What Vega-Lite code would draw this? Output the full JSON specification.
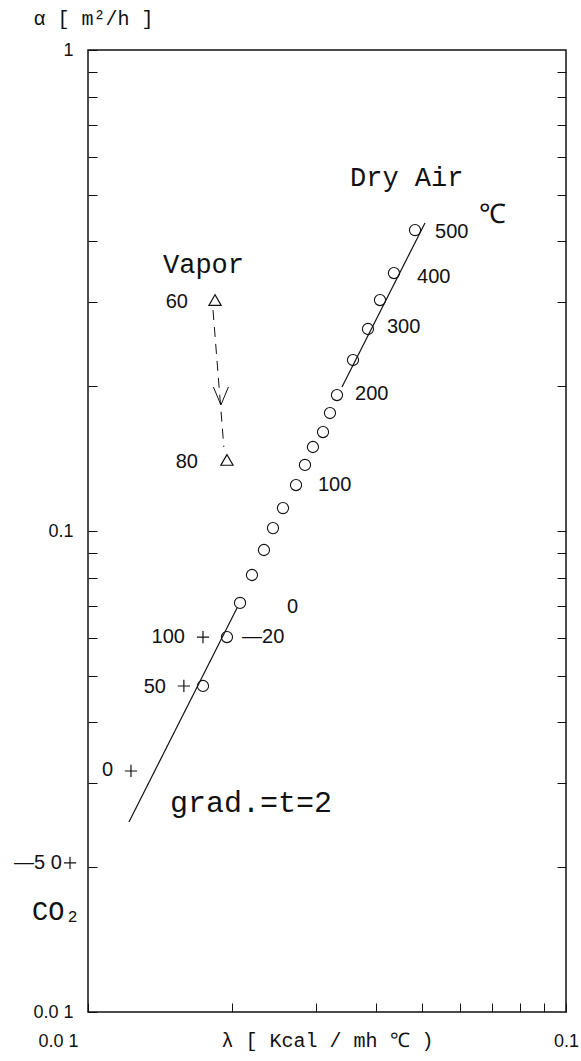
{
  "$schema": "https://vega.github.io/schema/vega-lite/v6.json",
  "width": 478,
  "height": 962,
  "autosize": "none",
  "padding": {"left": 88, "top": 50, "right": 15, "bottom": 49},
  "background": "white",
  "config": {"view": {"stroke": "#111", "strokeWidth": 1.5}, "font": "Liberation Sans"},
  "datasets": {
    "air": [
      {"lambda": 0.01740, "a": 0.04762},
      {"lambda": 0.01953, "a": 0.06019},
      {"lambda": 0.02080, "a": 0.07087},
      {"lambda": 0.02203, "a": 0.08101},
      {"lambda": 0.02334, "a": 0.09131},
      {"lambda": 0.02438, "a": 0.1014},
      {"lambda": 0.02558, "a": 0.1116},
      {"lambda": 0.02724, "a": 0.1246},
      {"lambda": 0.02844, "a": 0.1372},
      {"lambda": 0.02955, "a": 0.1495},
      {"lambda": 0.03102, "a": 0.1606},
      {"lambda": 0.03208, "a": 0.1759},
      {"lambda": 0.03318, "a": 0.1917},
      {"lambda": 0.03584, "a": 0.2267},
      {"lambda": 0.03852, "a": 0.2630},
      {"lambda": 0.04082, "a": 0.3021},
      {"lambda": 0.04366, "a": 0.3438},
      {"lambda": 0.04832, "a": 0.4223}
    ],
    "fit": [
      {"seg": "low", "lambda": 0.01218, "a": 0.02483},
      {"seg": "low", "lambda": 0.02050, "a": 0.06918},
      {"seg": "high", "lambda": 0.03399, "a": 0.1993},
      {"seg": "high", "lambda": 0.05070, "a": 0.4368}
    ],
    "vapor": [
      {"t": 60, "lambda": 0.01844, "a": 0.3021},
      {"t": 80, "lambda": 0.01953, "a": 0.1405}
    ],
    "vaporPath": [
      {"lambda": 0.01826, "a": 0.2880},
      {"lambda": 0.01924, "a": 0.1495}
    ],
    "arrow": [{"lambda": 0.01897, "a": 0.1828}],
    "co2": [
      {"t": 100, "lambda": 0.01740, "a": 0.06019},
      {"t": 50, "lambda": 0.01587, "a": 0.04762},
      {"t": 0, "lambda": 0.01230, "a": 0.03170},
      {"t": -50, "lambda": 0.00917, "a": 0.02041}
    ],
    "numAfter": [
      {"label": "500", "lambda": 0.05321, "a": 0.4183},
      {"label": "400", "lambda": 0.04879, "a": 0.3374},
      {"label": "300", "lambda": 0.04222, "a": 0.2655},
      {"label": "200", "lambda": 0.03620, "a": 0.1927},
      {"label": "100", "lambda": 0.03027, "a": 0.1246},
      {"label": "0", "lambda": 0.02608, "a": 0.0695},
      {"label": "—20", "lambda": 0.02100, "a": 0.06019}
    ],
    "numBefore": [
      {"label": "100", "lambda": 0.01595, "a": 0.06019},
      {"label": "50", "lambda": 0.01456, "a": 0.04739},
      {"label": "0", "lambda": 0.01128, "a": 0.03184},
      {"label": "—5 0", "lambda": 0.00882, "a": 0.02041},
      {"label": "60", "lambda": 0.01618, "a": 0.2993},
      {"label": "80", "lambda": 0.01698, "a": 0.1392}
    ],
    "words": [
      {"label": "Dry Air", "lambda": 0.03533, "a": 0.5418},
      {"label": "Vapor", "lambda": 0.01435, "a": 0.3573},
      {"label": "℃", "lambda": 0.06577, "a": 0.4539},
      {"label": "CO₂", "lambda": 0.00764, "a": 0.01614}
    ],
    "formula": [
      {"label": "grad.=t=2", "lambda": 0.01484, "a": 0.02719}
    ]
  },
  "resolve": {"axis": {"y": "independent"}},
  "layer": [
    {
      "data": {"name": "air"},
      "mark": {"type": "point", "shape": "circle", "filled": false, "size": 125, "stroke": "#111", "strokeWidth": 1.1, "opacity": 1},
      "encoding": {
        "x": {
          "field": "lambda", "type": "quantitative",
          "scale": {"type": "log", "domain": [0.01, 0.1], "nice": false},
          "axis": {
            "title": "λ [ Kcal / mh ℃ )",
            "orient": "bottom",
            "values": [0.01, 0.02, 0.03, 0.04, 0.05, 0.06, 0.07, 0.08, 0.09, 0.1],
            "domain": false, "grid": false,
            "tickSize": -9, "tickColor": "#111", "tickWidth": 1,
            "labelExpr": "datum.value < 0.015 ? '0.0 1' : (datum.value > 0.095 ? '0.1' : '')",
            "labelFlush": false, "labelOverlap": false,
            "labelAlign": {"condition": {"test": "datum.value < 0.015", "value": "right"}, "value": "center"},
            "labelOffset": {"condition": {"test": "datum.value < 0.015", "value": -10}, "value": 0},
            "labelFont": "Liberation Sans", "labelFontSize": 18, "labelColor": "#111",
            "labelPadding": 29,
            "titleFont": "Liberation Mono", "titleFontSize": 20, "titleFontWeight": "normal", "titleColor": "#111",
            "titleX": 239, "titleY": 28, "titleBaseline": "middle", "titleAlign": "center"
          }
        },
        "y": {
          "field": "a", "type": "quantitative",
          "scale": {"type": "log", "domain": [0.01, 1], "nice": false},
          "axis": {
            "title": "α [ m²/h ]",
            "values": [0.01, 0.02, 0.03, 0.04, 0.05, 0.06, 0.07, 0.08, 0.09, 0.1, 0.2, 0.3, 0.4, 0.5, 0.6, 0.7, 0.8, 0.9, 1],
            "domain": false, "grid": false,
            "tickSize": -9, "tickColor": "#111", "tickWidth": 1,
            "labelExpr": "datum.value > 0.95 ? '1' : (abs(datum.value - 0.1) < 0.000001 ? '0.1' : (datum.value < 0.0105 ? '0.0 1' : ''))",
            "labelFlush": false, "labelOverlap": false,
            "labelFont": "Liberation Sans", "labelFontSize": 18, "labelColor": "#111",
            "labelPadding": 24,
            "titleFont": "Liberation Mono", "titleFontSize": 20, "titleFontWeight": "normal", "titleColor": "#111",
            "titleAngle": 0, "titleX": 5, "titleY": -32, "titleAlign": "center", "titleBaseline": "middle"
          }
        }
      }
    },
    {
      "data": {"name": "fit"},
      "mark": {"type": "line", "stroke": "#111", "strokeWidth": 1.2},
      "encoding": {
        "x": {"field": "lambda", "type": "quantitative"},
        "y": {
          "field": "a", "type": "quantitative",
          "axis": {
            "orient": "right", "title": null, "labels": false, "domain": false, "grid": false,
            "values": [0.02, 0.03, 0.04, 0.05, 0.06, 0.07, 0.08, 0.09, 0.1, 0.2, 0.3, 0.4, 0.5, 0.6, 0.7, 0.8, 0.9],
            "tickSize": -9, "tickColor": "#111", "tickWidth": 1
          }
        },
        "detail": {"field": "seg"}
      }
    },
    {
      "data": {"name": "vaporPath"},
      "mark": {"type": "line", "stroke": "#111", "strokeWidth": 1, "strokeDash": [10, 7]},
      "encoding": {
        "x": {"field": "lambda", "type": "quantitative"},
        "y": {"field": "a", "type": "quantitative", "axis": null}
      }
    },
    {
      "data": {"name": "arrow"},
      "mark": {"type": "point", "shape": "M-0.75,-1.8L0,0L0.75,-1.8", "filled": false, "size": 400, "stroke": "#111", "strokeWidth": 1, "opacity": 1},
      "encoding": {
        "x": {"field": "lambda", "type": "quantitative"},
        "y": {"field": "a", "type": "quantitative", "axis": null}
      }
    },
    {
      "data": {"name": "vapor"},
      "mark": {"type": "point", "shape": "triangle-up", "filled": false, "size": 150, "stroke": "#111", "strokeWidth": 1.2, "opacity": 1},
      "encoding": {
        "x": {"field": "lambda", "type": "quantitative"},
        "y": {"field": "a", "type": "quantitative", "axis": null}
      }
    },
    {
      "data": {"name": "co2"},
      "mark": {"type": "point", "shape": "M-1,0L1,0M0,-1L0,1", "filled": false, "size": 150, "stroke": "#111", "strokeWidth": 1.2, "opacity": 1},
      "encoding": {
        "x": {"field": "lambda", "type": "quantitative"},
        "y": {"field": "a", "type": "quantitative", "axis": null}
      }
    },
    {
      "data": {"name": "numAfter"},
      "mark": {"type": "text", "align": "left", "baseline": "middle", "font": "Liberation Sans", "fontSize": 20, "color": "#111"},
      "encoding": {
        "x": {"field": "lambda", "type": "quantitative"},
        "y": {"field": "a", "type": "quantitative", "axis": null},
        "text": {"field": "label"}
      }
    },
    {
      "data": {"name": "numBefore"},
      "mark": {"type": "text", "align": "right", "baseline": "middle", "font": "Liberation Sans", "fontSize": 20, "color": "#111"},
      "encoding": {
        "x": {"field": "lambda", "type": "quantitative"},
        "y": {"field": "a", "type": "quantitative", "axis": null},
        "text": {"field": "label"}
      }
    },
    {
      "data": {"name": "words"},
      "mark": {"type": "text", "align": "left", "baseline": "middle", "font": "Liberation Mono", "fontSize": 27, "color": "#111"},
      "encoding": {
        "x": {"field": "lambda", "type": "quantitative"},
        "y": {"field": "a", "type": "quantitative", "axis": null},
        "text": {"field": "label"}
      }
    },
    {
      "data": {"name": "formula"},
      "mark": {"type": "text", "align": "left", "baseline": "middle", "font": "Liberation Mono", "fontSize": 30, "color": "#111"},
      "encoding": {
        "x": {"field": "lambda", "type": "quantitative"},
        "y": {"field": "a", "type": "quantitative", "axis": null},
        "text": {"field": "label"}
      }
    }
  ]
}
